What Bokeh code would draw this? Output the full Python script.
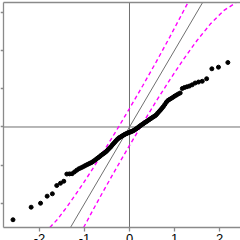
from bokeh.plotting import figure
from bokeh.models import Range1d, LinearAxis, FixedTicker
from bokeh.embed import file_html
from bokeh.resources import INLINE

# Theoretical normal quantiles (n = 104) read along the x axis
theoretical = [
    -2.589, -2.186, -1.977, -1.830, -1.714, -1.617, -1.534, -1.460, -1.393, -1.333,
    -1.276, -1.223, -1.174, -1.127, -1.083, -1.041, -1.000, -0.961, -0.923, -0.887,
    -0.852, -0.818, -0.785, -0.752, -0.721, -0.690, -0.659, -0.629, -0.600, -0.572,
    -0.544, -0.516, -0.489, -0.462, -0.435, -0.409, -0.383, -0.357, -0.331, -0.306,
    -0.281, -0.256, -0.231, -0.206, -0.182, -0.157, -0.133, -0.109, -0.084, -0.060,
    -0.036, -0.012, 0.012, 0.036, 0.060, 0.084, 0.109, 0.133, 0.157, 0.182,
    0.206, 0.231, 0.256, 0.281, 0.306, 0.331, 0.357, 0.383, 0.409, 0.435,
    0.462, 0.489, 0.516, 0.544, 0.572, 0.600, 0.629, 0.659, 0.690, 0.721,
    0.752, 0.785, 0.818, 0.852, 0.887, 0.923, 0.961, 1.000, 1.041, 1.083,
    1.127, 1.174, 1.223, 1.276, 1.333, 1.393, 1.460, 1.534, 1.617, 1.714,
    1.830, 1.977, 2.186, 2.589,
]

# Sorted sample values (y axis)
sample = [
    -1.211, -1.047, -0.995, -0.903, -0.872, -0.764, -0.734, -0.708, -0.614, -0.612,
    -0.610, -0.587, -0.565, -0.546, -0.534, -0.522, -0.509, -0.497, -0.486, -0.475,
    -0.466, -0.454, -0.440, -0.426, -0.411, -0.398, -0.384, -0.369, -0.356, -0.345,
    -0.333, -0.319, -0.303, -0.286, -0.270, -0.255, -0.234, -0.218, -0.201, -0.184,
    -0.168, -0.154, -0.141, -0.133, -0.124, -0.115, -0.106, -0.098, -0.090, -0.084,
    -0.077, -0.072, -0.067, -0.061, -0.055, -0.048, -0.040, -0.030, -0.021, -0.010,
    0.001, 0.013, 0.023, 0.034, 0.043, 0.054, 0.064, 0.073, 0.084, 0.095,
    0.106, 0.116, 0.127, 0.137, 0.148, 0.162, 0.183, 0.202, 0.223, 0.244,
    0.266, 0.294, 0.322, 0.345, 0.359, 0.372, 0.386, 0.402, 0.416, 0.431,
    0.444, 0.503, 0.516, 0.525, 0.535, 0.551, 0.574, 0.587, 0.597, 0.630,
    0.760, 0.781, 0.842, 1.520,
]

# Confidence envelope (read inside the plot box)
upper_x = [-1.77, -1.6, -1.4, -1.2, -1.0, -0.8, -0.6, -0.3, 0.0, 0.3, 0.6, 0.9, 1.1, 1.30]
upper_y = [-1.312, -1.205, -1.05, -0.884, -0.71, -0.529, -0.343, -0.055, 0.241, 0.545, 0.857, 1.18, 1.402, 1.625]
lower_x = [-1.02, -0.8, -0.6, -0.3, 0.0, 0.3, 0.6, 0.9, 1.2, 1.5, 1.8, 2.1, 2.37]
lower_y = [-1.312, -1.071, -0.857, -0.545, -0.241, 0.055, 0.343, 0.62, 0.884, 1.129, 1.347, 1.522, 1.625]

# Reference line y = a + b x
line_intercept = 0.0
line_slope = 1.0

x_ticks = [-2, -1, 0, 1, 2]
x_tick_labels = ["-2", "-1", "0", "1", "2"]
y_ticks = [-1.0, -0.5, 0.0, 0.5, 1.0, 1.5]

# plot box (data limits) and visible window of the (cropped) chart
XLIM = (-2.80, 2.80)
YLIM = (-1.312, 1.625)
VIEW_X = (-2.8667, 2.4667)
VIEW_Y = (-1.4817, 1.6514)

BOX = "#8a8a8a"
REF = "#707070"
MAG = "#ff00ff"

p = figure(width=240, height=240, output_backend="svg", toolbar_location=None,
           x_range=Range1d(*VIEW_X), y_range=Range1d(*VIEW_Y),
           x_axis_location=None, y_axis_location=None,
           min_border=0)
p.xgrid.visible = False
p.ygrid.visible = False
p.outline_line_color = None
p.background_fill_color = "white"
p.border_fill_color = "white"

# axes drawn at the plot box edges
xaxis = LinearAxis(fixed_location=YLIM[0], bounds=XLIM, ticker=FixedTicker(ticks=x_ticks),
                   major_label_overrides={t: s for t, s in zip(x_ticks, x_tick_labels)},
                   axis_line_color=BOX, axis_line_width=1.3,
                   major_tick_line_color=BOX, major_tick_line_width=1.3,
                   major_tick_out=4, major_tick_in=0, minor_tick_line_color=None,
                   major_label_text_font="Liberation Sans", major_label_text_font_size="13px",
                   major_label_text_color="black", major_label_standoff=2)
p.add_layout(xaxis, "below")

yaxis = LinearAxis(fixed_location=XLIM[0], bounds=YLIM, ticker=FixedTicker(ticks=y_ticks),
                   axis_line_color=BOX, axis_line_width=1.3,
                   major_tick_line_color=BOX, major_tick_line_width=1.3,
                   major_tick_out=3, major_tick_in=0, minor_tick_line_color=None,
                   major_label_text_color=None)
p.add_layout(yaxis, "left")

top = LinearAxis(fixed_location=YLIM[1], bounds=XLIM, ticker=FixedTicker(ticks=[]),
                 axis_line_color=BOX, axis_line_width=1.3,
                 major_tick_line_color=None, minor_tick_line_color=None,
                 major_label_text_color=None)
p.add_layout(top, "above")

# cross-hair lines at zero
p.segment(x0=[0, XLIM[0]], y0=[YLIM[0], 0], x1=[0, XLIM[1]], y1=[YLIM[1], 0],
          line_color=REF, line_width=1)

# reference line clipped to the box
lx0 = max(XLIM[0], (YLIM[0] - line_intercept) / line_slope)
lx1 = min(XLIM[1], (YLIM[1] - line_intercept) / line_slope)
p.line([lx0, lx1], [line_intercept + line_slope * lx0, line_intercept + line_slope * lx1],
       line_color=REF, line_width=1)

# envelope
p.line(upper_x, upper_y, line_color=MAG, line_width=1.4, line_dash="4 3")
p.line(lower_x, lower_y, line_color=MAG, line_width=1.4, line_dash="4 3")

# points
p.scatter(theoretical, sample, size=4, color="black")

open("out.html", "w").write(file_html(p, INLINE))
